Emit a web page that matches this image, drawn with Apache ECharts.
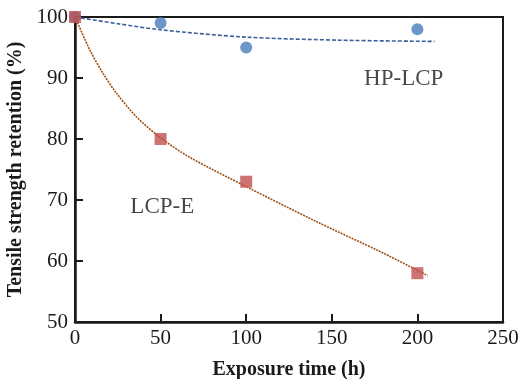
<!DOCTYPE html>
<html>
<head>
<meta charset="utf-8">
<script src="https://cdn.jsdelivr.net/npm/echarts@6/dist/echarts.min.js"></script>
<style>
  html, body { margin: 0; padding: 0; background: #fff; }
  #chart { width: 519px; height: 379px; }
</style>
</head>
<body>
<div id="chart"></div>
<script>
// measured points
const hours = [0, 50, 100, 200];
const hpLcp = [100, 99, 95, 98];
const lcpE = [100, 80, 73, 58];

// trend lines
const hpTrendX = [0, 25, 50, 100, 155, 210];
const hpTrendY = [100, 98.9, 97.9, 96.7, 96.2, 96.0];
const eTrendX = [0, 9, 16.5, 24, 36, 50, 67, 100, 140, 180, 206];
const eTrendY = [100, 94.4, 90.7, 87.6, 83.6, 80.2, 77.0, 72.2, 66.6, 61.3, 57.6];

const xTicks = [0, 50, 100, 150, 200, 250];
const yTicks = [50, 60, 70, 80, 90, 100];

const labels = [
  { name: "HP-LCP", x: 192, y: 89.8 },
  { name: "LCP-E", x: 51, y: 68.8 },
];

const font = "'Liberation Serif', 'Times New Roman', serif";
const pair = (xs, ys) => xs.map((x, i) => [x, ys[i]]);

const chart = echarts.init(document.getElementById("chart"));

chart.setOption({
  animation: false,
  grid: {
    left: 75, right: 16, top: 17, bottom: 57,
    outerBoundsMode: "none",
    containLabel: false,
    show: true, borderColor: "#1a1a1a", borderWidth: 2,
  },
  xAxis: {
    type: "value",
    min: xTicks[0], max: xTicks[xTicks.length - 1], interval: 50,
    name: "Exposure time (h)",
    nameLocation: "middle",
    nameGap: 38,
    nameTextStyle: { fontFamily: font, fontWeight: "bold", fontSize: 20, color: "#1a1a1a" },
    axisLine: { lineStyle: { color: "#1a1a1a", width: 2.5 } },
    axisTick: { inside: true, length: 8, lineStyle: { color: "#1a1a1a", width: 2 } },
    axisLabel: { fontFamily: font, fontSize: 21, color: "#1a1a1a", margin: 6 },
    splitLine: { show: false },
  },
  yAxis: {
    type: "value",
    min: yTicks[0], max: yTicks[yTicks.length - 1], interval: 10,
    name: "Tensile strength retention (%)",
    nameLocation: "middle",
    nameGap: 48,
    nameTextStyle: { fontFamily: font, fontWeight: "bold", fontSize: 20, color: "#1a1a1a" },
    axisLine: { show: true, lineStyle: { color: "#1a1a1a", width: 2.5 } },
    axisTick: { show: true, inside: true, length: 8, lineStyle: { color: "#1a1a1a", width: 2 } },
    axisLabel: { fontFamily: font, fontSize: 21, color: "#1a1a1a", margin: 7 },
    splitLine: { show: false },
  },
  series: [
    {
      type: "line",
      data: pair(hpTrendX, hpTrendY),
      smooth: 0.3,
      showSymbol: false,
      lineStyle: { color: "#3d5f99", width: 1.6, type: [4, 2] },
      z: 3,
    },
    {
      type: "line",
      data: pair(eTrendX, eTrendY),
      smooth: 0.3,
      showSymbol: false,
      lineStyle: { color: "#a04e10", width: 1.6, type: [2, 1] },
      z: 3,
    },
    {
      type: "scatter",
      data: pair(hours, hpLcp),
      symbol: "circle",
      symbolSize: 12,
      itemStyle: { color: "#4a7dbc" },
      z: 4,
    },
    {
      type: "scatter",
      data: pair(hours, lcpE),
      symbol: "rect",
      symbolSize: 12,
      itemStyle: { color: "#c0504d" },
      z: 5,
    },
    {
      type: "scatter",
      data: labels.map((l) => ({ name: l.name, value: [l.x, l.y] })),
      symbolSize: 0,
      silent: true,
      label: {
        show: true,
        position: "inside",
        formatter: "{b}",
        fontFamily: font,
        fontSize: 23,
        color: "#1a1a1a",
      },
      z: 6,
    },
  ],
});
</script>
</body>
</html>
